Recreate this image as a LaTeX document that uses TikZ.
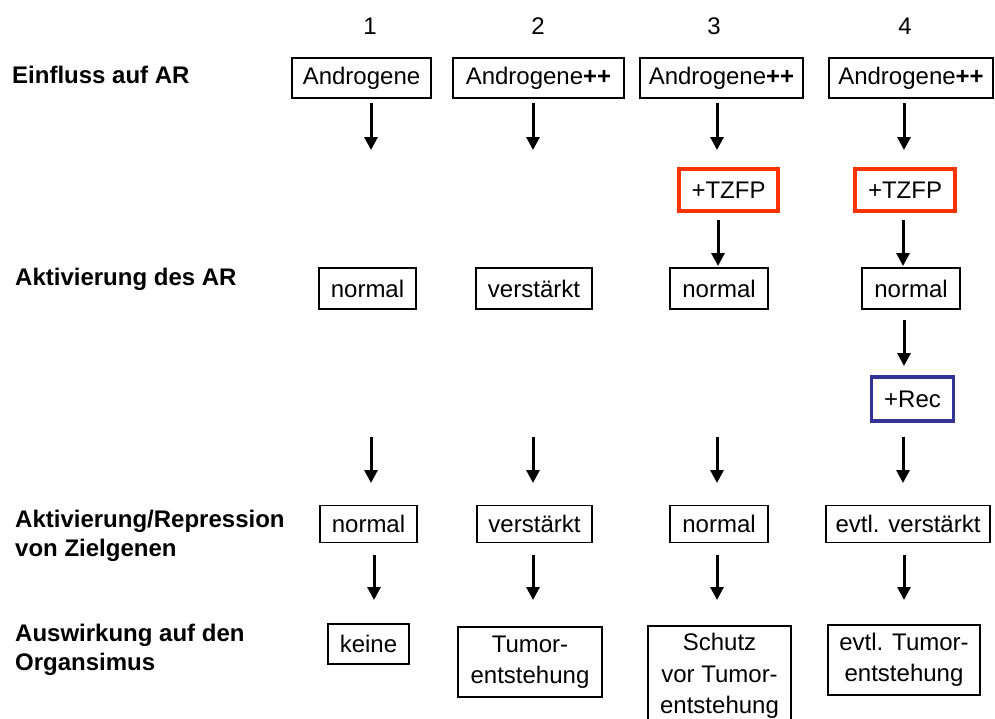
\documentclass[tikz,border=0pt]{standalone}
\usepackage{fontspec}
\setmainfont{Liberation Sans}
\usetikzlibrary{arrows.meta}
\definecolor{tzfpred}{HTML}{FF3300}
\definecolor{recblue}{HTML}{333399}
\begin{document}
\begin{tikzpicture}[x=1pt,y=-1pt,
  every node/.style={font=\fontsize{24}{31.5}\selectfont, inner sep=0pt},
  box/.style={draw, line width=1.3pt, align=center},
  redbox/.style={draw=tzfpred, line width=4pt},
  bluebox/.style={draw=recblue, line width=3.5pt},
  arr/.style={line width=3pt, -{Triangle[width=13pt,length=13pt]}},
  lbl/.style={font=\fontsize{24}{29}\selectfont\bfseries, anchor=base west},
  num/.style={anchor=base}]
\useasboundingbox (0,0) rectangle (995,718);

% column numbers
\node[num] (k1) at (370,34) {1};
\node[num] (k2) at (538,34) {2};
\node[num] (k3) at (714,34) {3};
\node[num] (k4) at (905,34) {4};

% row labels
\node[lbl] (l1) at (12,83) {Einfluss auf AR};
\node[lbl] (l2) at (15,285) {Aktivierung des AR};
\node[lbl] (l3a) at (15,527) {Aktivierung/Repression};
\node[lbl] (l3b) at (15,556) {von Zielgenen};
\node[lbl] (l4a) at (15,641) {Auswirkung auf den};
\node[lbl] (l4b) at (15,670) {Organsimus};

% row 1: influence on AR
\node[box, minimum width=139pt, minimum height=40pt] (r1c1) at (361.5,78) {Androgene};
\node[box, minimum width=171pt, minimum height=40pt] (r1c2) at (538.5,78) {Androgene\textbf{++}};
\node[box, minimum width=163pt, minimum height=40pt] (r1c3) at (721.5,78) {Androgene\textbf{++}};
\node[box, minimum width=164pt, minimum height=40pt] (r1c4) at (911,78) {Androgene\textbf{++}};

% TZFP
\node[redbox, minimum width=99pt, minimum height=42pt] (tz3) at (728.5,190) {+TZFP};
\node[redbox, minimum width=100pt, minimum height=42pt] (tz4) at (905,190) {+TZFP};

% row 2: activation of AR
\node[box, minimum width=97pt, minimum height=41pt] (r2c1) at (367.5,288.5) {normal};
\node[box, minimum width=116pt, minimum height=41pt] (r2c2) at (534,288.5) {verstärkt};
\node[box, minimum width=98pt, minimum height=41pt] (r2c3) at (719,288.5) {normal};
\node[box, minimum width=98pt, minimum height=41pt] (r2c4) at (911,288.5) {normal};

% Rec
\node[bluebox, minimum width=82pt, minimum height=44pt] (rec) at (912.5,399) {+Rec};

% row 3: target genes
\node[box, minimum width=97pt, minimum height=37pt] (r3c1) at (368.5,524) {normal};
\node[box, minimum width=115pt, minimum height=37pt] (r3c2) at (534.5,524) {verstärkt};
\node[box, minimum width=98pt, minimum height=37pt] (r3c3) at (719,524) {normal};
\node[box, minimum width=164pt, minimum height=37pt] (r3c4) at (908,524) {evtl. verstärkt};

% row 4: effect on organism
\node[box, minimum width=81pt, minimum height=40pt] (r4c1) at (368.5,644) {keine};
\node[box, minimum width=144pt, minimum height=70pt] (r4c2) at (530,662) {Tumor-\\entstehung};
\node[box, minimum width=143pt, minimum height=100pt] (r4c3) at (719.5,676) {Schutz\\vor Tumor-\\entstehung};
\node[box, minimum width=152pt, minimum height=70pt] (r4c4) at (904,660) {evtl. Tumor-\\entstehung};

% arrow end points
\coordinate (a1s) at (371,103); \coordinate (a1e) at (371,150);
\coordinate (a2s) at (533,103); \coordinate (a2e) at (533,150);
\coordinate (a3s) at (717,103); \coordinate (a3e) at (717,150);
\coordinate (a4s) at (904,103); \coordinate (a4e) at (904,150);

\coordinate (t3s) at (718,220); \coordinate (t3e) at (718,266);
\coordinate (t4s) at (903,220); \coordinate (t4e) at (903,266);

\coordinate (n4s) at (904,320); \coordinate (n4e) at (904,366);

\coordinate (c1s) at (371,437); \coordinate (c1e) at (371,483);
\coordinate (c2s) at (533,437); \coordinate (c2e) at (533,483);
\coordinate (c3s) at (717,437); \coordinate (c3e) at (717,483);
\coordinate (c4s) at (903,437); \coordinate (c4e) at (903,483);

\coordinate (d1s) at (374,555); \coordinate (d1e) at (374,600);
\coordinate (d2s) at (533,555); \coordinate (d2e) at (533,600);
\coordinate (d3s) at (717,555); \coordinate (d3e) at (717,600);
\coordinate (d4s) at (904,555); \coordinate (d4e) at (904,600);

\foreach \p in {a1,a2,a3,a4,t3,t4,n4,c1,c2,c3,c4,d1,d2,d3,d4}
  \draw[arr] (\p s) -- (\p e);
\end{tikzpicture}
\end{document}
